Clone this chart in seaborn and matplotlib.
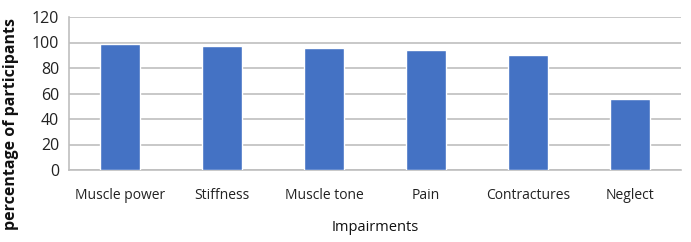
import numpy as np
import pandas as pd
import matplotlib
matplotlib.use("Agg")
import matplotlib.pyplot as plt
import seaborn as sns
from matplotlib.ticker import FixedLocator

#%% data
impairments = ["Muscle power", "Stiffness", "Muscle tone", "Pain", "Contractures", "Neglect"]
percentages = [99, 97.5, 95.5, 94.5, 90.5, 55.5]

df = pd.DataFrame({"impairment": impairments, "pct": percentages})

#%% plot
sns.set_style("white")
plt.rcParams["font.family"] = ["Open Sans", "DejaVu Sans"]

fig = plt.figure(figsize=(6.91, 2.42), dpi=100)
ax = fig.add_axes([69 / 691, 72 / 242, 612 / 691, 153 / 242])

sns.barplot(x="impairment", y="pct", data=df, color="#4472C4", width=0.4,
            saturation=1, ax=ax, zorder=3)

ax.set_ylim(0, 120)
ax.set_yticks(np.arange(0, 121, 20))
ax.set_xlim(-0.5, len(impairments) - 0.5)
ax.yaxis.grid(True, color="#BFBFBF", linewidth=1.2, zorder=0)

# category boundary ticks like excel
ax.xaxis.set_minor_locator(FixedLocator(np.arange(-0.5, len(impairments), 1)))
ax.tick_params(axis="x", which="major", length=0, pad=13, labelsize=10, colors="#222222")
ax.tick_params(axis="x", which="minor", length=6, color="#BFBFBF", direction="out")
ax.tick_params(axis="y", length=5, color="#BFBFBF", labelsize=11.5, colors="#222222", pad=2)

for s in ["top", "right"]:
    ax.spines[s].set_visible(False)
for s in ["left", "bottom"]:
    ax.spines[s].set_color("#BFBFBF")
    ax.spines[s].set_linewidth(1.2)

ax.set_xlabel("Impairments", fontsize=10.5, labelpad=12, color="#111111")
ax.set_ylabel("")
# y label sits further out than the axes, place on figure
fig.text(11 / 691, 1 - 124 / 242, "percentage of participants", rotation=90,
         ha="center", va="center", fontsize=11.5, fontweight="bold", color="#111111")

fig.savefig("out.png", dpi=100)
